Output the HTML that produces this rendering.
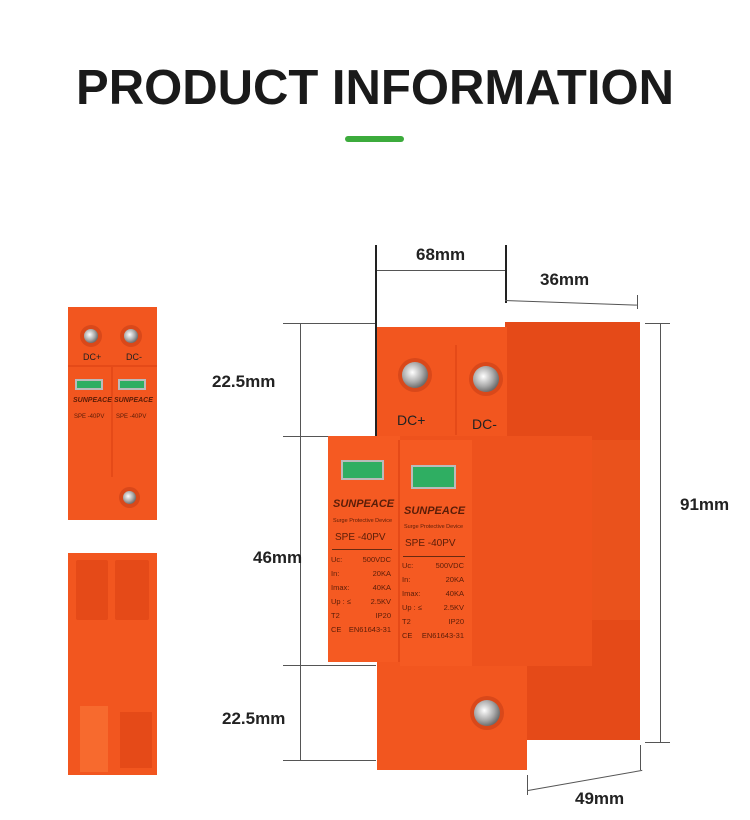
<!DOCTYPE html>
<html><head><meta charset="utf-8"><style>
*{margin:0;padding:0;box-sizing:border-box}
body{width:750px;height:820px;background:#fff;position:relative;overflow:hidden;font-family:"Liberation Sans",sans-serif}
.a{position:absolute}
.o{background:#f2561f}
.od{background:#e54a18}
.ol{background:#f76a2e}
.ln{background:#555}
.lb{position:absolute;font-weight:bold;font-size:17px;color:#222}
.scr{position:absolute;border-radius:50%;background:radial-gradient(circle at 40% 40%,#fff,#aaa 45%,#666 75%,#333);box-shadow:0 0 0 4px #d9481a}
.win{position:absolute;background:#2fae62;border:2px solid #bbb}
.t{position:absolute;color:#5a1d08;font-size:8px;white-space:nowrap}
.spec{position:absolute;color:#5a1d08;font-size:7.5px;line-height:14px}
.spec div{display:flex;justify-content:space-between}
</style></head><body>
<div class="a" style="left:0;top:60px;width:750px;text-align:center;font-size:49px;font-weight:bold;color:#1a1a1a">PRODUCT INFORMATION</div>
<div class="a" style="left:345px;top:136px;width:59px;height:6px;background:#3cab3c;border-radius:3px"></div>

<!-- small front thumbnail -->
<div class="a o" style="left:68px;top:307px;width:89px;height:213px"></div>
<div class="a od" style="left:68px;top:365px;width:89px;height:2px"></div>
<div class="a od" style="left:111px;top:367px;width:2px;height:110px"></div>
<div class="scr" style="left:84px;top:329px;width:14px;height:14px"></div>
<div class="scr" style="left:124px;top:329px;width:14px;height:14px"></div>
<div class="t" style="left:83px;top:352px;font-size:9px;color:#222">DC+</div>
<div class="t" style="left:126px;top:352px;font-size:9px;color:#222">DC-</div>
<div class="win" style="left:75px;top:379px;width:28px;height:11px"></div>
<div class="win" style="left:118px;top:379px;width:28px;height:11px"></div>
<div class="t" style="left:73px;top:397px;font-size:7px;font-style:italic;font-weight:bold">SUNPEACE</div>
<div class="t" style="left:114px;top:397px;font-size:7px;font-style:italic;font-weight:bold">SUNPEACE</div>
<div class="t" style="left:74px;top:414px;font-size:6px">SPE -40PV</div>
<div class="t" style="left:116px;top:414px;font-size:6px">SPE -40PV</div>
<div class="scr" style="left:123px;top:491px;width:13px;height:13px"></div>

<!-- back thumbnail -->
<div class="a o" style="left:68px;top:553px;width:89px;height:222px"></div>
<div class="a od" style="left:76px;top:560px;width:32px;height:60px;border-radius:2px"></div>
<div class="a od" style="left:115px;top:560px;width:34px;height:60px;border-radius:2px"></div>
<div class="a ol" style="left:80px;top:706px;width:28px;height:66px"></div>
<div class="a od" style="left:120px;top:712px;width:32px;height:56px"></div>

<!-- dimension lines -->
<div class="a ln" style="left:283px;top:323px;width:93px;height:1px"></div>
<div class="a ln" style="left:283px;top:436px;width:45px;height:1px"></div>
<div class="a ln" style="left:283px;top:665px;width:93px;height:1px"></div>
<div class="a ln" style="left:283px;top:760px;width:93px;height:1px"></div>
<div class="a ln" style="left:300px;top:323px;width:1px;height:437px"></div>
<div class="lb" style="left:212px;top:372px">22.5mm</div>
<div class="lb" style="left:253px;top:548px">46mm</div>
<div class="lb" style="left:222px;top:709px">22.5mm</div>
<div class="a" style="left:375px;top:245px;width:2px;height:192px;background:#222"></div>
<div class="a" style="left:505px;top:245px;width:2px;height:58px;background:#222"></div>
<div class="a ln" style="left:377px;top:270px;width:128px;height:1px"></div>
<div class="lb" style="left:416px;top:245px">68mm</div>
<div class="a ln" style="left:505px;top:300px;width:132px;height:1px;transform:rotate(2deg);transform-origin:left"></div>
<div class="a ln" style="left:637px;top:295px;width:1px;height:14px"></div>
<div class="lb" style="left:540px;top:270px">36mm</div>
<div class="a ln" style="left:645px;top:323px;width:25px;height:1px"></div>
<div class="a ln" style="left:645px;top:742px;width:25px;height:1px"></div>
<div class="a ln" style="left:660px;top:323px;width:1px;height:419px"></div>
<div class="lb" style="left:680px;top:495px">91mm</div>
<div class="a ln" style="left:527px;top:775px;width:1px;height:20px"></div>
<div class="a ln" style="left:640px;top:745px;width:1px;height:25px"></div>
<div class="a ln" style="left:528px;top:790px;width:116px;height:1px;transform:rotate(-10deg);transform-origin:left"></div>
<div class="lb" style="left:575px;top:789px">49mm</div>

<!-- main device -->
<div class="a od" style="left:505px;top:322px;width:135px;height:118px"></div>
<div class="a o" style="left:377px;top:327px;width:130px;height:110px"></div>
<div class="a od" style="left:455px;top:345px;width:2px;height:90px"></div>
<div class="scr" style="left:402px;top:362px;width:26px;height:26px"></div>
<div class="scr" style="left:473px;top:366px;width:26px;height:26px"></div>
<div class="t" style="left:397px;top:412px;font-size:14px;color:#222">DC+</div>
<div class="t" style="left:472px;top:416px;font-size:14px;color:#222">DC-</div>
<div class="a" style="left:592px;top:440px;width:48px;height:180px;background:#ea521c"></div>
<div class="a od" style="left:525px;top:620px;width:115px;height:120px"></div>
<div class="a o" style="left:377px;top:660px;width:150px;height:110px"></div>
<div class="scr" style="left:474px;top:700px;width:26px;height:26px"></div>
<div class="a" style="left:400px;top:436px;width:192px;height:230px;background:#ee521d"></div>
<div class="a" style="left:328px;top:436px;width:72px;height:226px;background:#f55a22"></div>
<div class="a" style="left:400px;top:440px;width:72px;height:226px;background:#f55a22"></div>
<div class="a od" style="left:398px;top:440px;width:2px;height:222px"></div>
<div class="win" style="left:341px;top:460px;width:43px;height:20px"></div>
<div class="win" style="left:411px;top:465px;width:45px;height:24px"></div>
<div class="t" style="left:333px;top:498px;font-size:11px;font-style:italic;font-weight:bold">SUNPEACE</div>
<div class="t" style="left:404px;top:505px;font-size:11px;font-style:italic;font-weight:bold">SUNPEACE</div>
<div class="t" style="left:333px;top:518px;font-size:5.5px">Surge Protective Device</div>
<div class="t" style="left:404px;top:524px;font-size:5.5px">Surge Protective Device</div>
<div class="t" style="left:335px;top:532px;font-size:10px">SPE -40PV</div>
<div class="t" style="left:405px;top:538px;font-size:10px">SPE -40PV</div>
<div class="a" style="left:332px;top:549px;width:60px;height:1px;background:#6a2a10"></div>
<div class="a" style="left:403px;top:556px;width:62px;height:1px;background:#6a2a10"></div>
<div class="spec" style="left:331px;top:553px;width:60px"><div><span>Uc:</span><span>500VDC</span></div><div><span>In:</span><span>20KA</span></div><div><span>Imax:</span><span>40KA</span></div><div><span>Up : ≤</span><span>2.5KV</span></div><div><span>T2</span><span>IP20</span></div><div><span>CE</span><span>EN61643-31</span></div></div>
<div class="spec" style="left:402px;top:559px;width:62px"><div><span>Uc:</span><span>500VDC</span></div><div><span>In:</span><span>20KA</span></div><div><span>Imax:</span><span>40KA</span></div><div><span>Up : ≤</span><span>2.5KV</span></div><div><span>T2</span><span>IP20</span></div><div><span>CE</span><span>EN61643-31</span></div></div>
</body></html>
